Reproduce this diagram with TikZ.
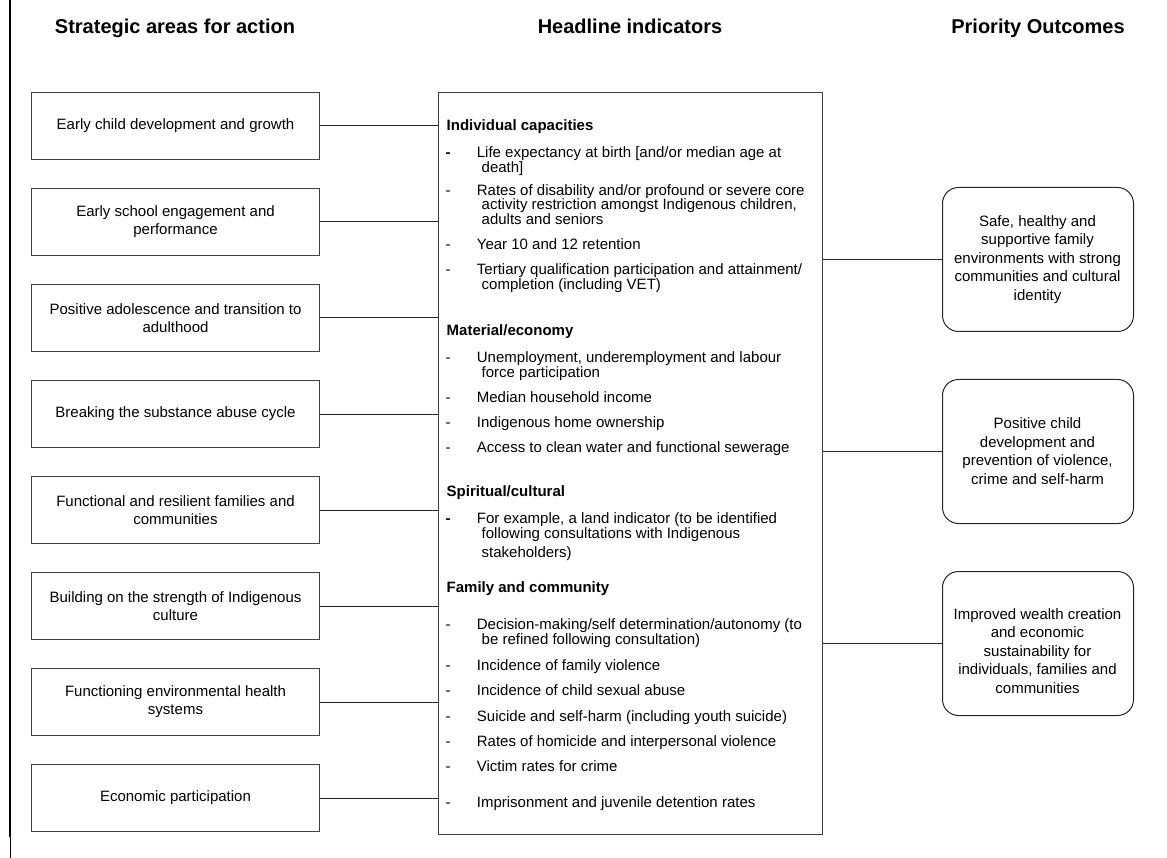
\documentclass[tikz,border=0pt]{standalone}
\usepackage{fontspec}
\setmainfont{Liberation Sans}
\begin{document}
\begin{tikzpicture}[x=1pt,y=-1pt,
 ln/.style={font=\fontsize{15}{18}\selectfont, inner sep=0pt, anchor=base west},
 bd/.style={font=\fontsize{15}{18}\selectfont\bfseries, inner sep=0pt, anchor=base west},
 colhead/.style={font=\fontsize{20}{24}\selectfont\bfseries, inner sep=0pt, anchor=base},
 lbox/.style={draw=black!75, line width=1pt, minimum width=288pt, minimum height=67pt, inner sep=0pt, align=center, font=\fontsize{15}{18}\selectfont, anchor=north west},
 rbox/.style={draw=black!85, line width=1pt, rounded corners=16pt, minimum width=191pt, minimum height=144pt, inner sep=0pt, anchor=north west},
 rtext/.style={align=center, inner sep=0pt, font=\fontsize{15}{18.5}\selectfont},
 conn/.style={draw=black!85, line width=1pt}]

\useasboundingbox (0,0) rectangle (1167,858);

% left margin bar
\coordinate (b0) at (10,0);
\coordinate (b1) at (10,837);
\coordinate (b2) at (10.6,837);
\coordinate (b3) at (10.6,858);
\draw[line width=2pt] (b0) -- (b1);
\draw[line width=0.8pt] (b2) -- (b3);

% column headings
\node[colhead] (h1) at (175,34) {Strategic areas for action};
\node[colhead] (h2) at (630,34) {Headline indicators};
\node[colhead] (h3) at (1038,34) {Priority Outcomes};

% left boxes
\node[lbox] (l1) at (31,92)  {Early child development and growth};
\node[lbox] (l2) at (31,188) {Early school engagement and\\performance};
\node[lbox] (l3) at (31,284) {Positive adolescence and transition to\\adulthood};
\node[lbox] (l4) at (31,380) {Breaking the substance abuse cycle};
\node[lbox] (l5) at (31,476) {Functional and resilient families and\\communities};
\node[lbox] (l6) at (31,572) {Building on the strength of Indigenous\\culture};
\node[lbox] (l7) at (31,668) {Functioning environmental health\\systems};
\node[lbox] (l8) at (31,764) {Economic participation};

% middle box
\node[draw=black!75, line width=1pt, minimum width=384pt, minimum height=742pt, inner sep=0pt, anchor=north west] (mid) at (438,92) {};

\foreach \i in {1,...,8} \draw[conn] (l\i.east) -- (l\i.east -| mid.west);

% right boxes
\node[rbox] (r1) at (942,187) {};
\node[rbox] (r2) at (942,379) {};
\node[rbox] (r3) at (942,571) {};
\node[rtext] (t1) at (1037.5,259.5) {Safe, healthy and\\supportive family\\environments with strong\\communities and cultural\\identity};
\node[rtext] (t2) at (1037.5,451) {Positive child\\development and\\prevention of violence,\\crime and self-harm};
\node[rtext] (t3) at (1037.5,651) {Improved wealth creation\\and economic\\sustainability for\\individuals, families and\\communities};

\foreach \i in {1,2,3} \draw[conn] (mid.east |- r\i.west) -- (r\i.west);

% middle box text
\def\dx{445.5}
\def\tx{476.7}
\def\cx{481.5}
\node[bd] (s1) at (446.5,130.4) {Individual capacities};
\node[bd] (d1) at (\dx,157.4) {-};
\node[ln] (a1) at (\tx,157.4) {Life expectancy at birth [and/or median age at};
\node[ln] (a1b) at (\cx,172.4) {death]};
\node[ln] (d2) at (\dx,195.4) {-};
\node[ln] (a2) at (\tx,195.4) {Rates of disability and/or profound or severe core};
\node[ln] (a2b) at (\cx,209.9) {activity restriction amongst Indigenous children,};
\node[ln] (a2c) at (\cx,224.4) {adults and seniors};
\node[ln] (d3) at (\dx,249.4) {-};
\node[ln] (a3) at (\tx,249.4) {Year 10 and 12 retention};
\node[ln] (d4) at (\dx,274.4) {-};
\node[ln] (a4) at (\tx,274.4) {Tertiary qualification participation and attainment/};
\node[ln] (a4b) at (\cx,289.4) {completion (including VET)};

\node[bd] (s2) at (446.5,335.4) {Material/economy};
\node[ln] (d5) at (\dx,362.4) {-};
\node[ln] (a5) at (\tx,362.4) {Unemployment, underemployment and labour};
\node[ln] (a5b) at (\cx,377.4) {force participation};
\node[ln] (d6) at (\dx,402.4) {-};
\node[ln] (a6) at (\tx,402.4) {Median household income};
\node[ln] (d7) at (\dx,427.4) {-};
\node[ln] (a7) at (\tx,427.4) {Indigenous home ownership};
\node[ln] (d8) at (\dx,452.4) {-};
\node[ln] (a8) at (\tx,452.4) {Access to clean water and functional sewerage};

\node[bd] (s3) at (446.5,496.4) {Spiritual/cultural};
\node[bd] (d9) at (\dx,523.4) {-};
\node[ln] (a9) at (\tx,523.4) {For example, a land indicator (to be identified};
\node[ln] (a9b) at (\cx,538.4) {following consultations with Indigenous};
\node[ln] (a9c) at (\cx,557.4) {stakeholders)};

\node[bd] (s4) at (446.5,592.4) {Family and community};
\node[ln] (d10) at (\dx,629.4) {-};
\node[ln] (a10) at (\tx,629.4) {Decision-making/self determination/autonomy (to};
\node[ln] (a10b) at (\cx,644.4) {be refined following consultation)};
\node[ln] (d11) at (\dx,670.4) {-};
\node[ln] (a11) at (\tx,670.4) {Incidence of family violence};
\node[ln] (d12) at (\dx,695.4) {-};
\node[ln] (a12) at (\tx,695.4) {Incidence of child sexual abuse};
\node[ln] (d13) at (\dx,721.4) {-};
\node[ln] (a13) at (\tx,721.4) {Suicide and self-harm (including youth suicide)};
\node[ln] (d14) at (\dx,746.4) {-};
\node[ln] (a14) at (\tx,746.4) {Rates of homicide and interpersonal violence};
\node[ln] (d15) at (\dx,771.4) {-};
\node[ln] (a15) at (\tx,771.4) {Victim rates for crime};
\node[ln] (d16) at (\dx,807.4) {-};
\node[ln] (a16) at (\tx,807.4) {Imprisonment and juvenile detention rates};
\end{tikzpicture}
\end{document}
